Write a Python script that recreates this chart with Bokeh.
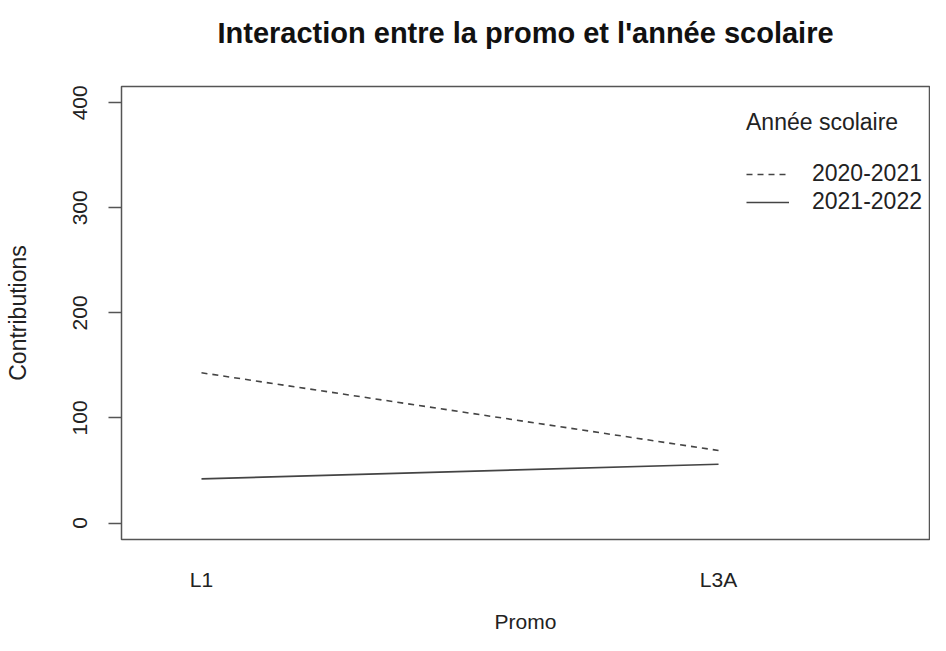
from bokeh.plotting import figure
from bokeh.models import Range1d, FixedTicker, Legend, LegendItem
from bokeh.embed import file_html
from bokeh.resources import INLINE

promo = ["L1", "L3A"]
promo_pos = [1, 2]
annee = ["2020-2021", "2021-2022"]
contrib_2020_2021 = [143, 69]
contrib_2021_2022 = [42, 56]
y_ticks = [0, 100, 200, 300, 400]

FONT = "Liberation Sans"
GRAY = "#555555"
TXT = "#222222"

p = figure(width=930, height=635, output_backend="svg", toolbar_location=None,
           x_range=Range1d(0.8453, 2.408), y_range=Range1d(-15.7, 415.5),
           min_border_left=121, min_border_right=1, min_border_top=86,
           min_border_bottom=96)

p.title.text = "Interaction entre la promo et l'année scolaire\n "
p.title.align = "center"
p.title.text_font = FONT
p.title.text_font_size = "29px"
p.title.text_font_style = "bold"
p.title.text_color = "#111111"
p.title.standoff = 11
p.title.offset = 9

p.grid.visible = False
p.outline_line_color = GRAY
p.outline_line_width = 1.5
p.background_fill_color = "white"
p.border_fill_color = "white"

# x axis
p.xaxis.ticker = FixedTicker(ticks=promo_pos)
p.xaxis.major_label_overrides = {pos: lab for pos, lab in zip(promo_pos, promo)}
p.xaxis.axis_line_color = None
p.xaxis.major_tick_line_color = None
p.xaxis.minor_tick_line_color = None
p.xaxis.major_tick_out = 0
p.xaxis.major_tick_in = 0
p.xaxis.major_label_standoff = 28
p.xaxis.axis_label = "Promo"
p.xaxis.axis_label_standoff = 16

# y axis
p.yaxis.ticker = FixedTicker(ticks=y_ticks)
p.yaxis.axis_line_color = None
p.yaxis.major_tick_line_color = GRAY
p.yaxis.major_tick_line_width = 1.5
p.yaxis.minor_tick_line_color = None
p.yaxis.major_tick_out = 13
p.yaxis.major_tick_in = 0
p.yaxis.major_label_orientation = "vertical"
p.yaxis.major_label_standoff = 21
p.yaxis.axis_label = "Contributions"
p.yaxis.axis_label_standoff = 40

for ax in (p.xaxis, p.yaxis):
    ax.major_label_text_font = FONT
    ax.major_label_text_font_size = "21px"
    ax.major_label_text_color = TXT
    ax.axis_label_text_font = FONT
    ax.axis_label_text_font_style = "normal"
    ax.axis_label_text_color = TXT
p.xaxis.axis_label_text_font_size = "21px"
p.yaxis.axis_label_text_font_size = "23px"

r1 = p.line(promo_pos, contrib_2020_2021, line_color="#444444", line_width=1.6,
            line_dash="6 5")
r2 = p.line(promo_pos, contrib_2021_2022, line_color="#444444", line_width=1.6)

legend = Legend(items=[LegendItem(label=annee[0], renderers=[r1]),
                       LegendItem(label=annee[1], renderers=[r2])],
                location=(625, 324), title="Année scolaire")
legend.title_text_font = FONT
legend.title_text_font_size = "23px"
legend.title_text_font_style = "normal"
legend.title_text_color = TXT
legend.title_standoff = 24
legend.label_text_font = FONT
legend.label_text_font_size = "23px"
legend.label_text_color = TXT
legend.glyph_width = 43
legend.glyph_height = 22
legend.label_height = 22
legend.label_standoff = 23
legend.spacing = 1
legend.padding = 0
legend.margin = 0
legend.border_line_color = None
legend.background_fill_alpha = 0
p.add_layout(legend)

open("out.html", "w").write(file_html(p, INLINE))
